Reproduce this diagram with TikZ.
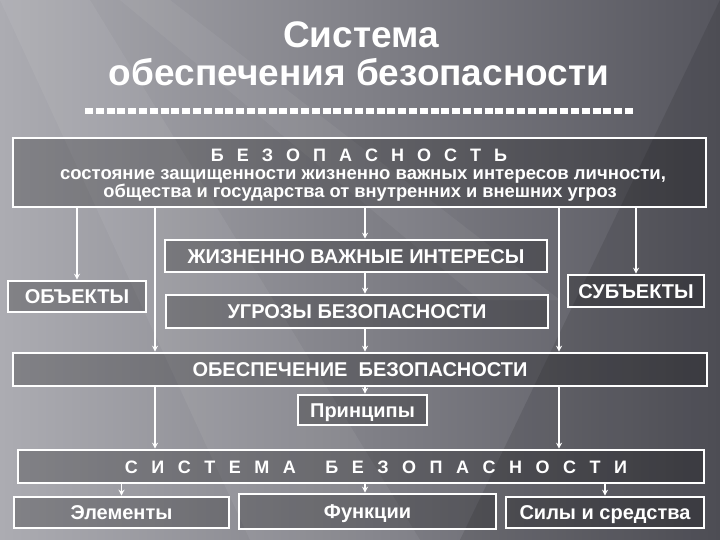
\documentclass[tikz,border=0pt]{standalone}
\usepackage{fontspec}
\setmainfont{Liberation Sans}
\usetikzlibrary{arrows.meta}
\definecolor{bgL}{RGB}{172,172,178}
\definecolor{bgR}{RGB}{86,86,94}
\tikzset{
  box/.style={draw=white, line width=2.6pt, fill=black, fill opacity=0.24, text opacity=1, text=white, font=\bfseries\fontsize{20}{22}\selectfont, inner sep=0pt, text height=14.5pt, text depth=0pt, anchor=center},
  lbl/.style={text=white, font=\bfseries, inner sep=0pt},
  conn/.style={draw=white, line width=1.6pt},
  arr/.style={conn, -{Stealth[length=6pt,width=6pt]}}
}
\begin{document}
\begin{tikzpicture}[x=1pt,y=-1pt]
\useasboundingbox (0,0) rectangle (720,540);
\shade[left color=bgL, right color=bgR] (0,0) rectangle (720,540);
\fill[white, opacity=0.06] (0,0) -- (90,0) -- (420,540) -- (250,540) -- cycle;
\fill[white, opacity=0.05] (120,0) -- (170,0) -- (560,300) -- (480,300) -- cycle;
\fill[black, opacity=0.10] (720,0) -- (720,540) -- (460,540) -- cycle;

% title
\node[lbl, font=\bfseries\fontsize{37}{40}\selectfont] (t1) at (361,35) {Система};
\node[lbl, font=\bfseries\fontsize{37}{40}\selectfont] (t2) at (359,72) {обеспечения безопасности};
\draw[white, line width=5.5pt, dash pattern=on 8pt off 2.8pt] (85,111) -- (634,111);

% boxes
\node[box, minimum width=693pt, minimum height=69pt] (b1) at (359.5,172.5) {};
\node[lbl, font=\bfseries\fontsize{18}{20}\selectfont] (b1a) at (359,155) {\spaceskip=13pt Б Е З О П А С Н О С Т Ь};
\node[lbl, font=\bfseries\fontsize{18.5}{20}\selectfont] (b1b) at (363,176) {состояние защищенности жизненно важных интересов личности,};
\node[lbl, font=\bfseries\fontsize{18.3}{20}\selectfont] (b1c) at (360,193) {общества и государства от внутренних и внешних угроз};

\node[box, minimum width=382pt, minimum height=32pt] (zh) at (356,256) {ЖИЗНЕННО ВАЖНЫЕ ИНТЕРЕСЫ};
\node[box, minimum width=138pt, minimum height=31pt] (obj) at (77,296.5) {ОБЪЕКТЫ};
\node[box, minimum width=136pt, minimum height=32pt] (sub) at (636,291) {СУБЪЕКТЫ};
\node[box, minimum width=382pt, minimum height=33pt] (ug) at (357,311.5) {УГРОЗЫ БЕЗОПАСНОСТИ};
\node[box, minimum width=694pt, minimum height=33pt] (ob) at (360,369.5) {ОБЕСПЕЧЕНИЕ \ БЕЗОПАСНОСТИ};
\node[box, minimum width=129pt, minimum height=30pt] (pr) at (362.5,410) {Принципы};
\node[box, minimum width=686pt, minimum height=33pt] (sys) at (361,466.5) {};
\node[lbl, font=\bfseries\fontsize{18}{20}\selectfont] (sysl) at (376,467) {\spaceskip=13.5pt С И С Т Е М А\hspace{16pt} Б Е З О П А С Н О С Т И};
\node[box, minimum width=215pt, minimum height=31pt] (el) at (121.5,512.5) {Элементы};
\node[box, minimum width=257pt, minimum height=35pt] (fn) at (367.5,511.5) {Функции};
\node[box, minimum width=198pt, minimum height=31pt] (sil) at (605,512.5) {Силы и средства};

% x positions of connectors
\coordinate (xl) at (155,0);
\coordinate (xc) at (365,0);
\coordinate (xr) at (559,0);

% connectors
\draw[arr] (b1.south -| obj.north) -- (obj.north);
\draw[arr] (b1.south -| sub.north) -- (sub.north);
\draw[arr] (b1.south -| xl) -- (ob.north -| xl);
\draw[arr] (b1.south -| xr) -- (ob.north -| xr);
\draw[arr] (b1.south -| xc) -- (zh.north -| xc);
\draw[arr] (zh.south -| xc) -- (ug.north -| xc);
\draw[arr] (ug.south -| xc) -- (ob.north -| xc);
\draw[arr] (ob.south -| xc) -- (pr.north -| xc);
\draw[arr] (ob.south -| xl) -- (sys.north -| xl);
\draw[arr] (ob.south -| xr) -- (sys.north -| xr);
\draw[arr] (sys.south -| el.north) -- (el.north);
\draw[arr] (sys.south -| xc) -- (fn.north -| xc);
\draw[arr] (sys.south -| sil.north) -- (sil.north);
\end{tikzpicture}
\end{document}
